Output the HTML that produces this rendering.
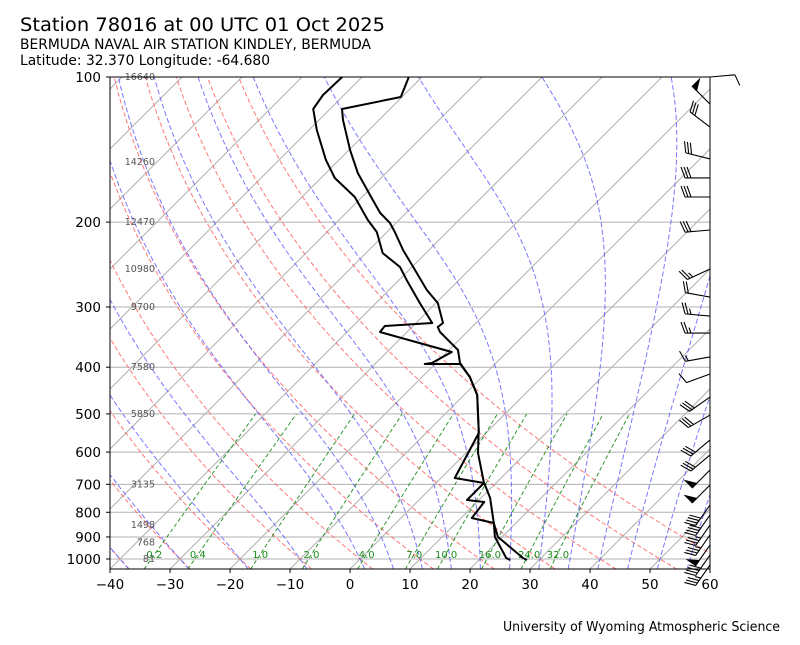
<!DOCTYPE html>
<html><head><meta charset="utf-8"><style>
html,body{margin:0;padding:0;background:#fff;}
svg text{font-family:"DejaVu Sans","Liberation Sans",sans-serif;}
</style></head><body>
<svg id="chart" width="800" height="640" viewBox="0 0 800 640" xmlns="http://www.w3.org/2000/svg">
<defs><clipPath id="plotclip"><rect x="110" y="77" width="600" height="492"/></clipPath></defs>
<rect width="800" height="640" fill="#fff"/>
<text x="20" y="31" font-size="18.7" textLength="365" lengthAdjust="spacingAndGlyphs">Station 78016 at 00 UTC 01 Oct 2025</text>
<text x="20" y="49" font-size="13.9" textLength="351" lengthAdjust="spacingAndGlyphs">BERMUDA NAVAL AIR STATION KINDLEY, BERMUDA</text>
<text x="20" y="65" font-size="13.9" textLength="250" lengthAdjust="spacingAndGlyphs">Latitude: 32.370 Longitude: -64.680</text>
<text x="503" y="631" font-size="13" textLength="277" lengthAdjust="spacingAndGlyphs">University of Wyoming Atmospheric Science</text>
<g id="bg" clip-path="url(#plotclip)"></g>
<g id="labels"></g>
<g id="data" clip-path="url(#plotclip)"></g>
<g id="axes"></g>
<g id="barbs"></g>
</svg>
<script>
const pressureTicks = [100,200,300,400,500,600,700,800,900,1000];
const tempTicks = [-40,-30,-20,-10,0,10,20,30,40,50,60];
const isotherms = [-120,-110,-100,-90,-80,-70,-60,-50,-40,-30,-20,-10,0,10,20,30,40,50,60];
const dryAdiabatsC = [-40,-30,-20,-10,0,10,20,30,40,50,60];
const moistAdiabatsC = [-40,-30,-20,-10,0,5,10,15,20,25,30,35,40,45,50,55];
const mixingRatios = [0.2,0.4,1,2,4,7,10,16,24,32];
const mixingLabels = ["0.2","0.4","1.0","2.0","4.0","7.0","10.0","16.0","24.0","32.0"];
const heightLevels = [100,150,200,250,300,400,500,700,850,925,1000];
const heightValues = ["16640","14260","12470","10980","9700","7580","5850","3135","1498","768","81"];
const tempPres = [100,110,116.5,122.8,141.8,158.2,175.7,191.5,200.9,209.7,228.6,251.4,276.6,294.4,323.8,330.1,338.1,368.5,392.1,419.3,456.9,540.1,602.6,692.1,747,842,900,995.3,1004.8];
const tempVals = [-72.2,-70.2,-78,-76,-69.8,-64.7,-59,-54.3,-51,-48.7,-44.3,-39,-33.7,-29.7,-25.5,-25.7,-24.5,-18.5,-16,-12,-7.8,-1.7,2,7.8,11.5,16.3,19.3,27,28];
const dewPres = [100,109,116.5,128.8,148.6,162,177.4,198,209.7,231.9,247.9,263.8,294.4,323.8,328.6,338.1,372,392.1,393.9,393.9,419.3,456.9,547.8,679.2,695.5,754.3,761.5,822.1,842,900,995,1004.8];
const dewVals = [-83.3,-83.5,-82.8,-78.7,-72.2,-67.7,-61.2,-55.2,-51.7,-47.2,-42,-38.7,-32.7,-27.3,-34.7,-34.5,-19.2,-20.7,-21.7,-15.8,-12,-7.8,-1.2,2.3,8,8,11.2,11.8,16.3,18.8,24.2,25.2];
const windPres = [100,113.8,127,147.9,162,177.4,207.7,250.2,286.1,313.3,339.8,380.9,413.3,461.3,502.8,566.3,608.4,653.8,702.3,772.7,810.4,850.2,891.6,935.4,981.1,1029];
const windDir = [85,315,307,284,270,270,265,245,280,275,270,260,250,235,240,230,230,225,225,215,215,215,215,215,215,215];
const windSpd = [10,50,30,30,30,30,30,25,20,25,25,15,10,30,30,30,30,50,50,40,40,35,35,50,40,35];

const NS='http://www.w3.org/2000/svg';
const L=110,R=710,T=77,B=569;
function yP(p){return T+482*Math.log10(p/100);}
function xT(t,p){return L+(t+40)*6+(B-yP(p));}
function mk(tag,attrs,parent){const e=document.createElementNS(NS,tag);for(const k in attrs)e.setAttribute(k,attrs[k]);parent.appendChild(e);return e;}
const bg=document.getElementById('bg'),lb=document.getElementById('labels'),dg=document.getElementById('data'),ax=document.getElementById('axes'),bb=document.getElementById('barbs');
function pts(arrP,arrT){return arrP.map((p,i)=>xT(arrT[i],p).toFixed(1)+','+yP(arrP[i]).toFixed(1)).join(' ');}
const plev=[];for(let p=1050;p>=100;p-=10)plev.push(p);

pressureTicks.forEach(p=>{
  const l=mk('line',{x1:L,x2:R,y1:yP(p),y2:yP(p),stroke:'#b0b0b0','stroke-width':1},bg);
  
  
});
isotherms.forEach(t=>{
  const l=mk('line',{x1:xT(t,1050),y1:yP(1050),x2:xT(t,100),y2:yP(100),stroke:'#b0b0b0','stroke-width':1},bg);
  
  
});
dryAdiabatsC.forEach(t0=>{
  const th=t0+273.15;
  const P=plev, Tt=P.map(p=>th*Math.pow(p/1000,0.2857)-273.15);
  const l=mk('polyline',{points:pts(P,Tt),fill:'none',stroke:'#ff5555','stroke-opacity':0.8,'stroke-width':1,'stroke-dasharray':'4.5,2.5'},bg);
  
  
});
function es(tc){return 6.112*Math.exp(17.67*tc/(tc+243.5));}
function dTdp(p,tk){const tc=tk-273.15,e=es(tc),rs=0.622*e/(p-e);const Rd=287.04,Lv=2.501e6,Cp=1005.7;
  return (Rd*tk+Lv*rs)/(Cp+Lv*Lv*rs*0.622/(Rd*tk*tk))/p;}
function moist(t0){
  const up=[],dn=[];let tk=t0+273.15;
  for(let p=1000;p>=100;p-=5){up.push([p,tk]);tk-=5*dTdp(p,tk);}
  tk=t0+273.15;for(let p=1000;p<=1050;p+=5){dn.push([p,tk]);tk+=5*dTdp(p,tk);}
  const all=dn.reverse().concat(up.slice(1));
  return [all.map(a=>a[0]),all.map(a=>a[1]-273.15)];
}
moistAdiabatsC.forEach(t0=>{
  const [P,Tt]=moist(t0);
  const l=mk('polyline',{points:pts(P,Tt),fill:'none',stroke:'#5555ff','stroke-opacity':0.8,'stroke-width':1,'stroke-dasharray':'5,2.5'},bg);
  
  
});
function tdFromW(w,p){const e=w*p/(622+w);const a=Math.log(e/6.112);return 243.5*a/(17.67-a);}
mixingRatios.forEach((w,i)=>{
  const P=[1050,1000,900,800,700,600,500],Tt=P.map(p=>tdFromW(w,p));
  const l=mk('polyline',{points:pts(P,Tt),fill:'none',stroke:'#1a8c1a','stroke-opacity':0.9,'stroke-width':1,'stroke-dasharray':'4,2.5'},bg);
  
  
  const tx=mk('text',{x:xT(tdFromW(w,1000),1000)+3,y:558,'font-size':10,fill:'#1a8c1a','text-anchor':'middle'},bg);
  tx.textContent=mixingLabels[i];
  
  
});
heightLevels.forEach((p,i)=>{
  const tx=mk('text',{x:155,y:yP(p)+3,'font-size':9.5,fill:'#555','text-anchor':'end'},lb);
  tx.textContent=heightValues[i];
  
  
});
const tl=mk('polyline',{points:pts(tempPres,tempVals),fill:'none',stroke:'#000','stroke-width':2,'stroke-linejoin':'round'},dg);


const dl=mk('polyline',{points:pts(dewPres,dewVals),fill:'none',stroke:'#000','stroke-width':2,'stroke-linejoin':'round'},dg);


const fr=mk('rect',{x:L,y:T,width:R-L,height:B-T,fill:'none',stroke:'#000','stroke-width':1},ax);


pressureTicks.forEach(p=>{
  mk('line',{x1:L-4,x2:L,y1:yP(p),y2:yP(p),stroke:'#000'},ax);
  const tx=mk('text',{x:L-9,y:yP(p)+5,'font-size':13.5,'text-anchor':'end'},ax);
  tx.textContent=p;
  
  
});
tempTicks.forEach(t=>{
  const x=L+(t+40)*6;
  mk('line',{x1:x,x2:x,y1:B,y2:B+4,stroke:'#000'},ax);
  const tx=mk('text',{x:x,y:B+20,'font-size':13.5,'text-anchor':'middle'},ax);
  tx.textContent=(t<0?'\u2212'+(-t):t);
  
  
});
windPres.forEach((p,i)=>{
  const g=mk('g',{stroke:'#000','stroke-width':1.1,fill:'#000'},bb);
  
  
  const bx=R,by=yP(p),a=windDir[i]*Math.PI/180;
  const sx=Math.sin(a),sy=-Math.cos(a),len=25;
  const ex=bx+sx*len,ey=by+sy*len;
  mk('line',{x1:bx,y1:by,x2:ex,y2:ey},g);
  const px=-sy,py=sx;
  let s=windSpd[i],d=0;
  const fl=Math.floor(s/50);s-=fl*50;const fu=Math.floor(s/10);s-=fu*10;const hf=s>=5?1:0;
  for(let k=0;k<fl;k++){
    const ax0=ex-sx*d,ay0=ey-sy*d;
    mk('polygon',{points:`${ax0},${ay0} ${ax0+px*10},${ay0+py*10} ${ax0-sx*6},${ay0-sy*6}`},g);
    d+=7;
  }
  for(let k=0;k<fu;k++){
    const ax0=ex-sx*d,ay0=ey-sy*d;
    mk('line',{x1:ax0,y1:ay0,x2:ax0+px*11+sx*4,y2:ay0+py*11+sy*4},g);
    d+=3;
  }
  if(hf){const ax0=ex-sx*(d||3),ay0=ey-sy*(d||3);
    mk('line',{x1:ax0,y1:ay0,x2:ax0+px*5.5+sx*2,y2:ay0+py*5.5+sy*2},g);}
});
</script>
</body></html>
